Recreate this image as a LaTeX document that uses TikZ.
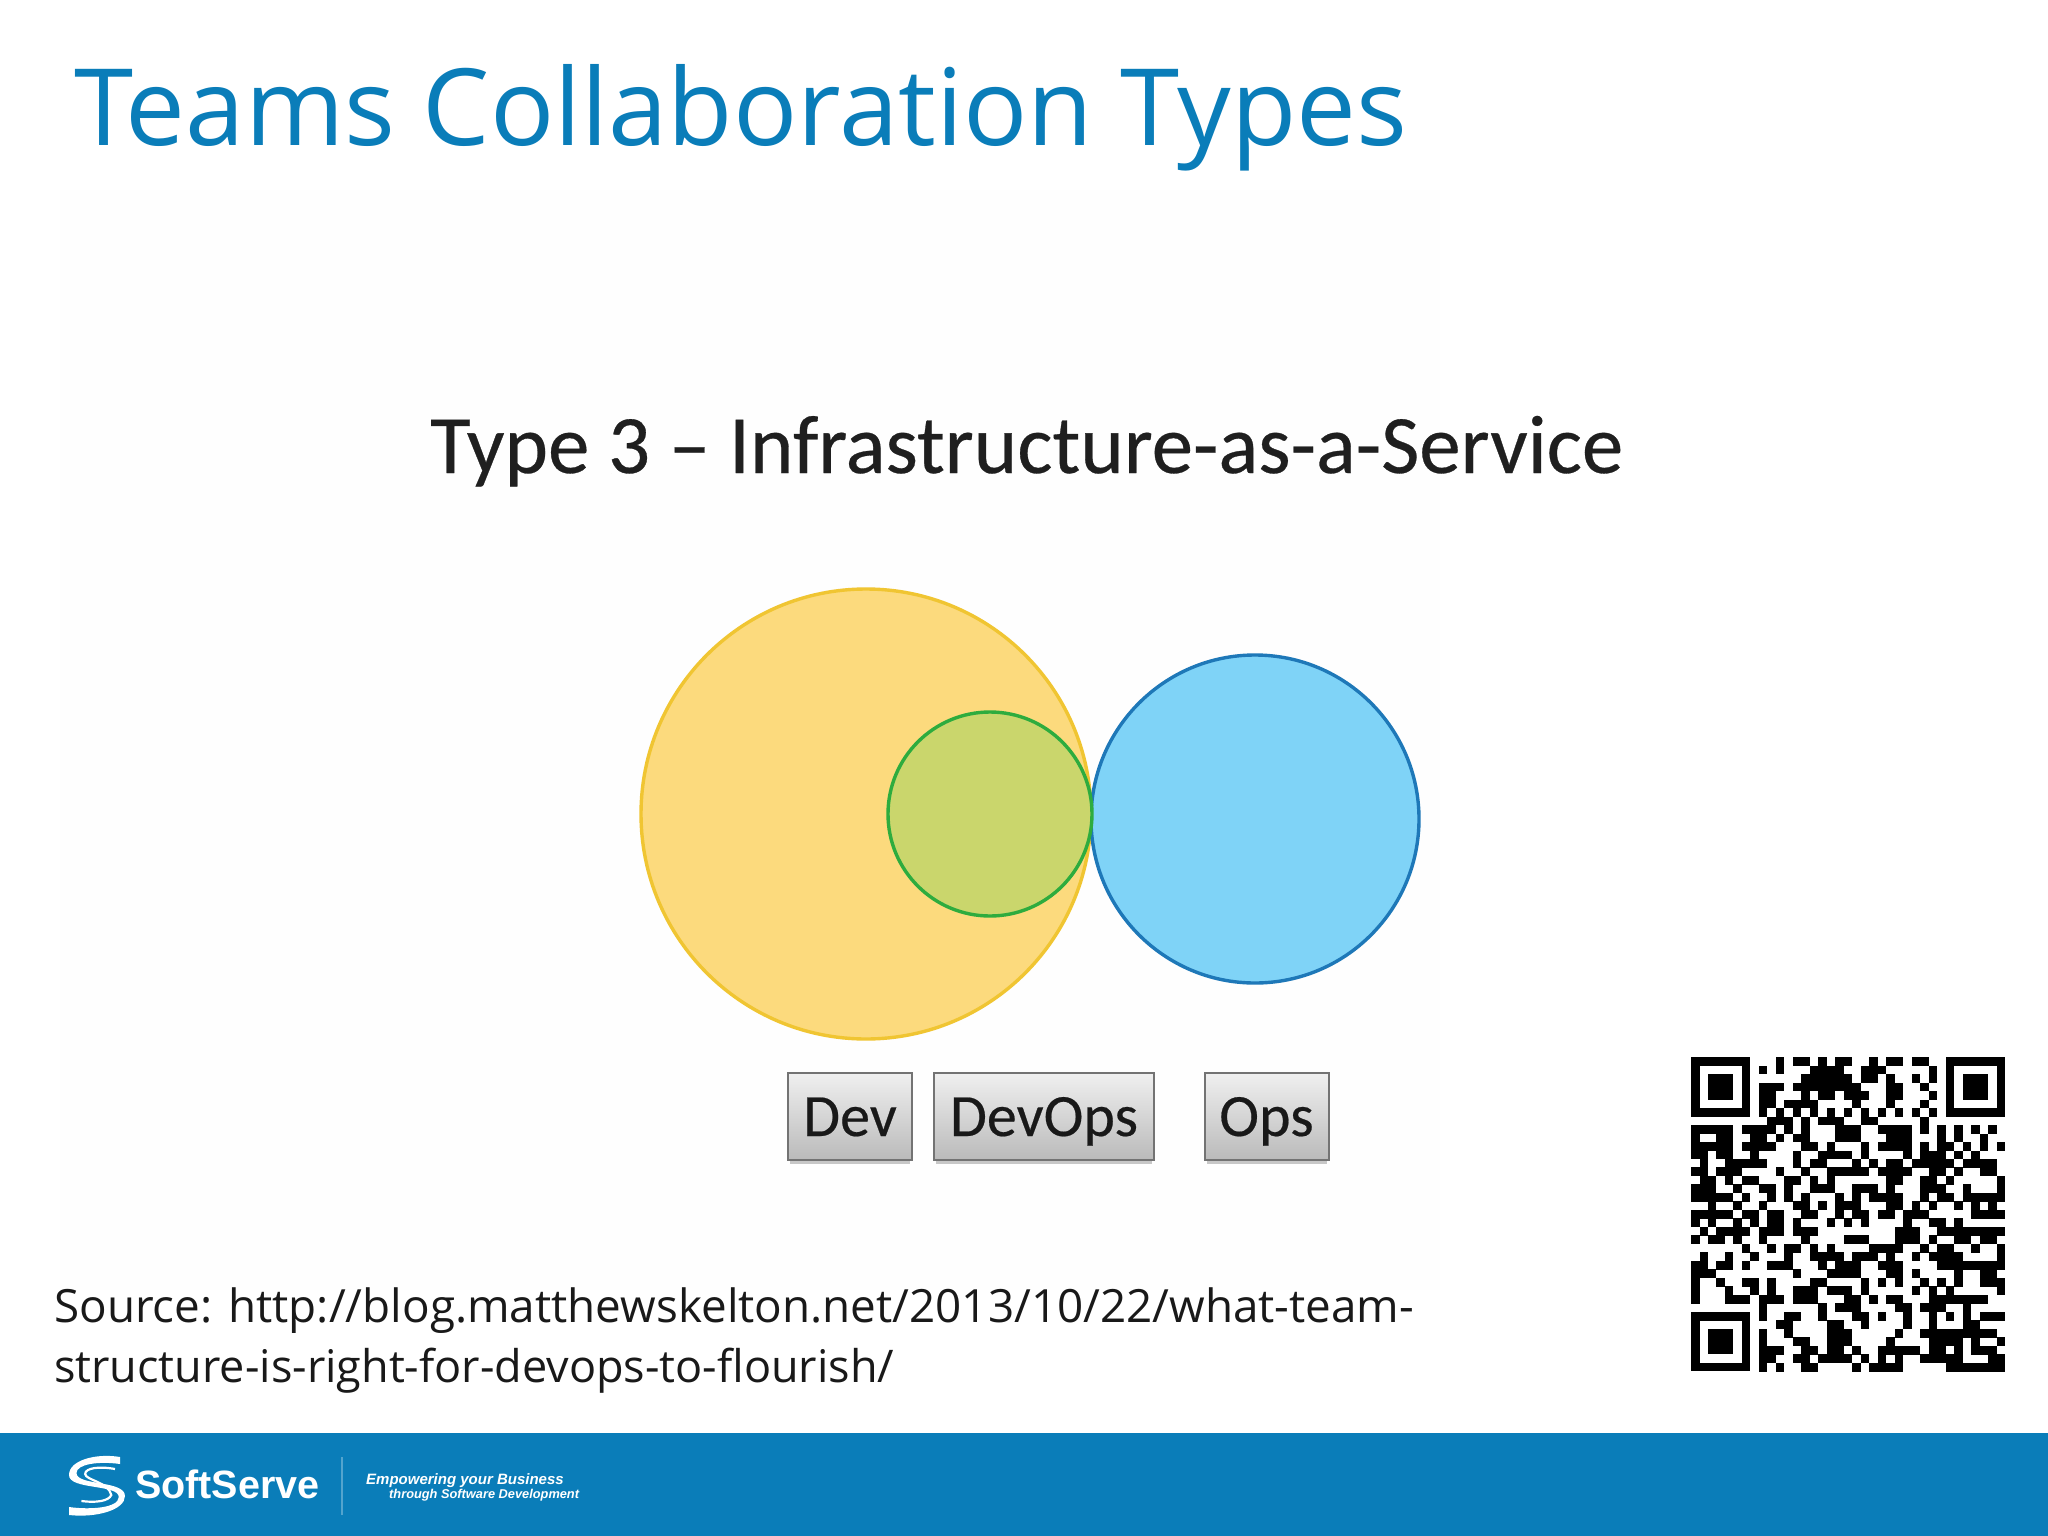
\documentclass[tikz,border=0pt]{standalone}
\usepackage{fontspec}
\setmainfont{Open Sans}
\newfontfamily\carl{Carlito}
\newfontfamily\carlb[FakeBold=0.35]{Carlito}
\newfontfamily\lib{Liberation Sans}
\definecolor{brand}{HTML}{0A7DB9}
\tikzset{
  venn/.style={circle,inner sep=0pt,line width=3.4pt},
  tagbox/.style={draw=black!55,line width=2pt,top color=black!6,bottom color=black!27,inner sep=0pt,minimum height=87pt,text height=45pt,text depth=6pt,font=\carlb\fontsize{60}{60}\selectfont,text=black!90},
  qrm/.style={fill=black},
  tagshadow/.style={fill=black!22},
  line1/.style={anchor=base west,inner sep=0pt},
}
\newcommand{\qrrow}[2]{\foreach \c/\l in {#2}{\fill[qrm] (1691+8.49*\c,1057.3+8.49*#1-0.2) rectangle ++(8.49*\l,8.89);}}
\newcommand{\finder}[2]{%
  \fill[qrm] (1691+8.49*#1,1057.3+8.49*#2) rectangle ++(59.4,59.4);
  \fill[white] (1691+8.49*#1+8.49,1057.3+8.49*#2+8.49) rectangle ++(42.45,42.45);
  \fill[qrm] (1691+8.49*#1+16.98,1057.3+8.49*#2+16.98) rectangle ++(25.47,25.47);}
\begin{document}
\begin{tikzpicture}[x=1pt,y=-1pt]
\useasboundingbox (0,0) rectangle (2048,1536);
\fill[white] (0,0) rectangle (2048,1536);
\fill[black!0.4] (60,190) rectangle (1440,1290);
% title
\node[line1,text=brand,font=\fontsize{106.7}{107}\selectfont] (title) at (74,146) {Teams Collaboration Types};
\node[line1,text=black!88,font=\carlb\fontsize{83}{83}\selectfont] (sub) at (430,473) {Type 3 – Infrastructure-as-a-Service};
% venn
\node[venn,minimum size=450pt,draw={rgb,255:red,240;green,197;blue,50},fill={rgb,255:red,252;green,218;blue,125}] (dev) at (866,814) {};
\node[venn,minimum size=328pt,draw={rgb,255:red,30;green,120;blue,184},fill={rgb,255:red,127;green,211;blue,247}] (ops) at (1255,819) {};
\node[venn,minimum size=204pt,draw={rgb,255:red,46;green,172;blue,62},fill={rgb,255:red,202;green,214;blue,108}] (both) at (990,814) {};
% tags
\fill[tagshadow] (790,1160) rectangle (910,1164);
\fill[tagshadow] (936,1160) rectangle (1152,1164);
\fill[tagshadow] (1207,1160) rectangle (1327,1164);
\node[tagbox,minimum width=124pt] (tdev) at (850,1116.5) {Dev};
\node[tagbox,minimum width=220pt] (tdevops) at (1044,1116.5) {DevOps};
\node[tagbox,minimum width=124pt] (tops) at (1266.5,1116.5) {Ops};
% source
\node[line1,text=black!90,font=\fontsize{45.8}{46}\selectfont] (src1) at (54,1322) {Source: http://blog.matthewskelton.net/2013/10/22/what-team-};
\node[line1,text=black!90,font=\fontsize{45}{46}\selectfont] (src2) at (54,1382) {structure-is-right-for-devops-to-flourish/};
% QR
\finder{0}{0}\finder{30}{0}\finder{0}{30}
\qrrow{0}{10/1,12/2,15/1,17/2,21/1,23/2,26/2}
\qrrow{1}{8/1,10/1,14/4,20/3,28/1}
\qrrow{2}{13/6,20/2,23/1,26/1,28/1}
\qrrow{3}{8/3,12/8,23/2,27/1}
\qrrow{4}{8/2,13/1,15/2,18/3,23/2,28/1}
\qrrow{5}{8/2,11/4,19/1,23/1,27/1}
\qrrow{6}{8/1,10/1,12/1,14/1,16/1,18/1,20/1,22/1,24/1,26/1,28/1}
\qrrow{7}{9/3,13/1,15/3,20/2,27/1}
\qrrow{8}{0/5,6/4,11/1,13/1,17/3,22/4,27/1,29/1,31/1,33/1,35/1}
\qrrow{9}{0/1,3/2,7/2,10/1,12/2,17/3,23/3,29/1,31/1,34/1}
\qrrow{10}{0/2,2/3,6/4,13/2,16/1,20/1,22/4,27/1,29/2,32/1,34/1,36/1}
\qrrow{11}{0/2,3/2,7/1,12/1,15/4,20/1,25/1,27/3,31/1,33/1}
\qrrow{12}{1/1,4/5,12/1,14/2,19/1,21/1,23/2,26/5,32/4}
\qrrow{13}{0/2,3/3,10/1,13/1,16/5,22/4,28/2,31/1,34/2}
\qrrow{14}{1/2,4/1,6/2,11/2,14/1,16/1,23/2,27/2,30/1,36/1}
\qrrow{15}{0/3,5/1,8/2,11/1,14/3,19/3,23/1,27/3,32/1,36/1}
\qrrow{16}{0/5,6/1,9/1,11/1,13/1,17/1,19/1,21/4,27/1,29/2,32/4,36/1}
\qrrow{17}{2/1,5/1,8/1,12/2,15/1,17/3,23/2,26/1,28/1,31/1,33/1,35/1}
\qrrow{18}{0/5,6/2,9/2,13/2,17/1,19/2,22/2,25/3,33/4}
\qrrow{19}{0/1,2/1,5/1,7/1,9/2,12/1,16/1,18/1,20/1,25/1,28/2,31/1}
\qrrow{20}{1/1,3/4,8/3,12/3,24/3,29/8}
\qrrow{21}{0/1,2/2,5/1,8/1,13/1,18/3,24/3,28/1,31/2,34/2}
\qrrow{22}{6/1,9/1,11/2,14/1,16/1,21/4,27/1,29/2,33/1,36/1}
\qrrow{23}{1/1,4/1,7/1,11/1,14/4,19/3,23/1,26/1,28/4,36/1}
\qrrow{24}{0/2,3/2,6/1,9/3,15/1,17/3,22/3,29/8}
\qrrow{25}{0/3,12/1,16/4,23/2,26/1,31/1,34/2}
\qrrow{26}{0/1,3/1,6/2,9/1,14/2,20/1,22/1,24/1,27/1,29/1,31/1,34/3}
\qrrow{27}{0/1,4/1,7/1,9/1,12/3,16/3,20/1,26/1,28/1,30/1,36/1}
\qrrow{28}{0/1,4/3,8/3,12/3,18/2,21/1,23/2,28/7}
\qrrow{29}{8/1,15/1,17/3,24/2,27/3,32/1}
\qrrow{30}{8/1,11/2,15/1,19/2,22/1,25/1,28/1,30/1,32/1,34/3}
\qrrow{31}{10/2,16/2,20/1,25/1,28/1,32/2}
\qrrow{32}{8/1,11/1,16/3,24/1,27/9}
\qrrow{33}{8/1,12/2,16/3,23/1,28/4,33/1,36/1}
\qrrow{34}{8/3,13/2,16/2,19/1,22/5,28/2,31/1,33/3}
\qrrow{35}{8/2,12/2,15/4,20/1,22/1,24/1,27/5,35/2}
\qrrow{36}{8/1,10/1,13/2,19/1,21/4,30/7}
% footer
\fill[brand] (0,1433) rectangle (2048,1536);
\begin{scope}[xshift=-3.15pt,xscale=1.244]
\fill[white] (99,1457) .. controls (80,1453) and (58,1460) .. (58,1475) .. controls (58,1490) and (98,1484) .. (98,1497) .. controls (98,1508) and (75,1510) .. (58,1507) -- (58,1515) .. controls (80,1518) and (103,1510) .. (103,1496) .. controls (103,1480) and (64,1486) .. (64,1473) .. controls (64,1464) and (82,1461) .. (99,1464) -- cycle;
\draw[white,line width=2.2pt] (95,1469) .. controls (82,1466) and (71,1468) .. (71,1474) .. controls (71,1480) and (90,1482) .. (92,1495) .. controls (90,1501) and (80,1503) .. (68,1501);
\end{scope}
\node[line1,text=white,font=\lib\bfseries\fontsize{39.5}{40}\selectfont] (logo) at (135,1498) {SoftServe};
\fill[white,opacity=.3] (341,1457) rectangle (343,1515);
\node[line1,text=white,font=\lib\bfseries\itshape\fontsize{15}{15}\selectfont] (tag1) at (366,1484) {Empowering your Business};
\node[line1,text=white,font=\lib\bfseries\itshape\fontsize{12.8}{13}\selectfont] (tag2) at (389,1498) {through Software Development};
\end{tikzpicture}
\end{document}
